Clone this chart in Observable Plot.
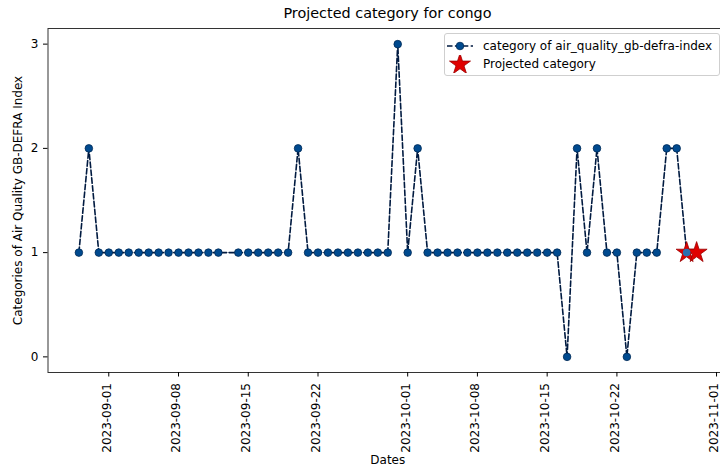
<!DOCTYPE html>
<html>
<head>
<meta charset="utf-8">
<script src="https://cdn.jsdelivr.net/npm/d3@7"></script>
<script src="https://cdn.jsdelivr.net/npm/@observablehq/plot@0.6"></script>
<style>
  html, body { margin: 0; padding: 0; background: #fff; overflow: hidden; }
  #wrap { position: relative; width: 720px; height: 473px; font-family: "DejaVu Sans", sans-serif; }
  #title { position: absolute; left: 48px; width: 679px; top: 0; height: 26px; line-height: 27px; text-align: center; font-size: 14.4px; color: #000; }
  #chart { position: absolute; left: 0; top: 26px; }
  #legend { position: absolute; left: 444px; top: 33px; width: 274px; height: 41px; border: 1px solid #cfcfcf; border-radius: 3px; background: rgba(255,255,255,0.85); font-size: 12px; }
  .row { position: absolute; left: 0; height: 18px; }
  .row svg { display: block; position: absolute; left: 0; top: 0; }
  .row span { position: absolute; left: 38px; top: 1px; white-space: nowrap; line-height: 16px; }
</style>
</head>
<body>
<div id="wrap">
  <div id="title">Projected category for congo</div>
  <div id="chart"></div>
  <div id="legend">
    <div class="row" style="top:3px"><svg width="34" height="18"><line x1="2" y1="9" x2="28" y2="9" stroke="#001a40" stroke-width="1.6" stroke-dasharray="5.5,2.4"/><circle cx="15" cy="9" r="3.8" fill="#004a8f" stroke="#002a55" stroke-width="0.8"/></svg><span>category of air_quality_gb-defra-index</span></div>
    <div class="row" style="top:21px"><svg width="34" height="18"><path id="lstar" fill="#e00000" stroke="#9a0000" stroke-width="0.8"/></svg><span>Projected category</span></div>
  </div>
</div>
<script>
// Observed category per date (2023-09-13 absent)
const dates = [
  "2023-08-29","2023-08-30","2023-08-31","2023-09-01","2023-09-02","2023-09-03","2023-09-04",
  "2023-09-05","2023-09-06","2023-09-07","2023-09-08","2023-09-09","2023-09-10","2023-09-11",
  "2023-09-12","2023-09-14","2023-09-15","2023-09-16","2023-09-17","2023-09-18","2023-09-19",
  "2023-09-20","2023-09-21","2023-09-22","2023-09-23","2023-09-24","2023-09-25","2023-09-26",
  "2023-09-27","2023-09-28","2023-09-29","2023-09-30","2023-10-01","2023-10-02","2023-10-03",
  "2023-10-04","2023-10-05","2023-10-06","2023-10-07","2023-10-08","2023-10-09","2023-10-10",
  "2023-10-11","2023-10-12","2023-10-13","2023-10-14","2023-10-15","2023-10-16","2023-10-17",
  "2023-10-18","2023-10-19","2023-10-20","2023-10-21","2023-10-22","2023-10-23","2023-10-24",
  "2023-10-25","2023-10-26","2023-10-27","2023-10-28","2023-10-29"
];
const categories = [
  1,2,1,1,1,1,1,
  1,1,1,1,1,1,1,
  1,1,1,1,1,1,1,
  2,1,1,1,1,1,1,
  1,1,1,3,1,2,1,
  1,1,1,1,1,1,1,
  1,1,1,1,1,1,0,
  2,1,2,1,1,0,1,
  1,1,2,2,1
];
// Projected category
const projDates = ["2023-10-29","2023-10-30"];
const projValues = [1,1];
// Axis ticks
const xTicks = ["2023-09-01","2023-09-08","2023-09-15","2023-09-22","2023-10-01","2023-10-08","2023-10-15","2023-10-22","2023-11-01"];
const yTicks = [0,1,2,3];

const observed = dates.map((d, i) => ({date: new Date(d), value: categories[i]}));
const projected = projDates.map((d, i) => ({date: new Date(d), value: projValues[i]}));
const lastObs = observed.slice(-1);

const day = 864e5;
const xmin = new Date(+new Date("2023-08-29") - 3.1 * day);
const xmax = new Date(+new Date("2023-10-30") + 3.1 * day);
const xTickDates = xTicks.map(d => new Date(d));

const font = "DejaVu Sans";
const chart = Plot.plot({
  width: 727,
  height: 447,
  marginTop: 2,
  marginBottom: 101,
  marginLeft: 47.5,
  marginRight: 0,
  style: {fontFamily: font, fontSize: "12px", color: "#000", background: "transparent", maxWidth: "none", overflow: "visible"},
  x: {type: "utc", domain: [xmin, xmax]},
  y: {domain: [-0.15, 3.15]},
  marks: [
    Plot.frame({stroke: "#333", strokeWidth: 1}),
    Plot.axisY({ticks: yTicks, tickFormat: d3.format("d"), tickSize: 4.5, tickPadding: 5, fontSize: 12, label: null}),
    Plot.axisX({ticks: xTickDates, tickSize: 4.5, fill: "none", label: null}),
    Plot.axisX({ticks: xTickDates, tickFormat: d3.utcFormat("%Y-%m-%d"), tickRotate: -90, tickSize: 0, tickPadding: 10.5, dx: -2, fontSize: 12, label: null}),
    Plot.text(["Dates"], {text: d => d, frameAnchor: "bottom", dy: 91, fontSize: 12}),
    Plot.text(["Categories of Air Quality GB-DEFRA Index"], {text: d => d, frameAnchor: "left", textAnchor: "middle", dx: -29.5, rotate: -90, fontSize: 12}),
    Plot.line(observed, {x: "date", y: "value", stroke: "#001a40", strokeWidth: 1.6, strokeDasharray: "5.5,2.4"}),
    Plot.dot(observed, {x: "date", y: "value", r: 3.8, fill: "#004a8f", stroke: "#002a55", strokeWidth: 0.8}),
    Plot.dot(projected, {x: "date", y: "value", symbol: "star", r: 6.6, fill: "#e00000", stroke: "#9a0000", strokeWidth: 0.8}),
    Plot.dot(lastObs, {x: "date", y: "value", r: 3.8, fill: "#2a6fb0"})
  ]
});
document.getElementById("chart").appendChild(chart);
// legend star using the same d3 symbol
const starPath = d3.symbol(d3.symbolStar, 6.6 * 6.6 * Math.PI)();
const ls = document.getElementById("lstar");
ls.setAttribute("d", starPath);
ls.setAttribute("transform", "translate(15,9.5)");
</script>
</body>
</html>
